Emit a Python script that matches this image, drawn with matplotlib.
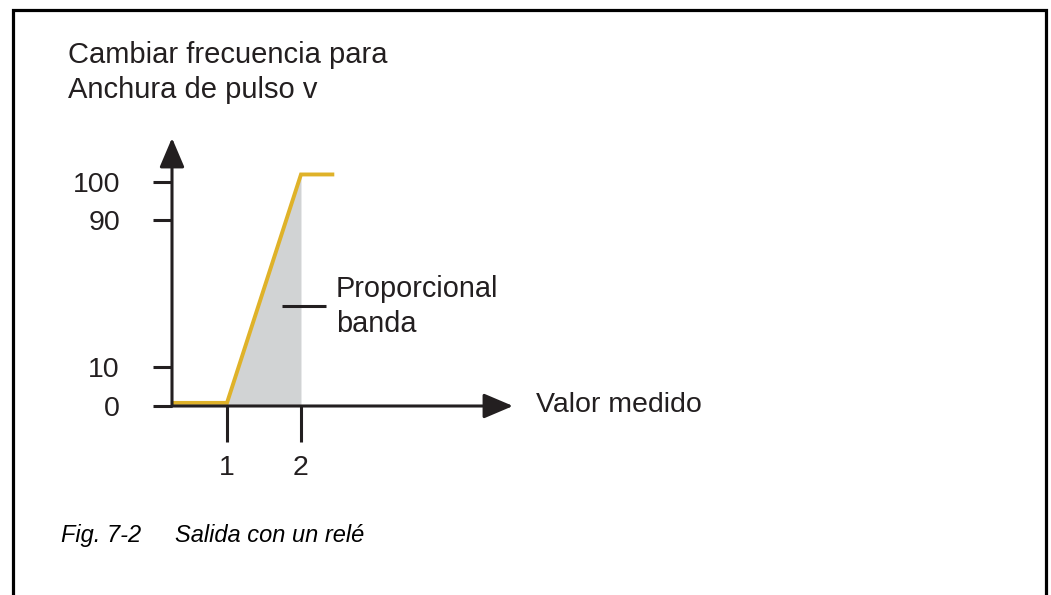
import numpy as np
import matplotlib
import matplotlib.pyplot as plt
from matplotlib.lines import Line2D

matplotlib.rcParams['font.family'] = ['Liberation Sans', 'DejaVu Sans']

# data (schematic relay output)
x_measured = [0.26, 1, 2, 2.45]      # measured value
y_output = [0.8, 0.8, 102, 102]      # pulse width / frequency, %
band_x = [1, 2]                      # proportional band
y_ticks = [0, 10, 90, 100]
y_tick_labels = ['0', '10', '90', '100']
x_ticks = [1, 2]
x_tick_labels = ['1', '2']

dark = '#231f20'
yellow = '#dfb229'
grey = '#d1d3d4'

W, H = 1051, 595
fig = plt.figure(figsize=(W / 100, H / 100), dpi=100)


def fx(px):
    return px / W


def fy(py):
    return 1 - py / H


# frame round the figure (open at the bottom)
fig.add_artist(Line2D([fx(13), fx(13), fx(1046), fx(1046)],
                      [fy(600), fy(9.5), fy(9.5), fy(600)],
                      transform=fig.transFigure, color='black', lw=2.3,
                      solid_joinstyle='miter'))

ax = fig.add_axes([fx(172), fy(406), fx(513) - fx(172), fy(138) - fy(406)])

# y axis is drawn schematically: 0-10 and 90-100 are stretched
knots_v = [-100, 0, 10, 90, 100, 200]
knots_p = [-390, 0, 39, 186, 224, 604]
ax.set_yscale('function', functions=(lambda v: np.interp(v, knots_v, knots_p),
                                     lambda p: np.interp(p, knots_p, knots_v)))
ax.set_xlim(0.257, 4.865)
ax.set_ylim(0, 111.6)

ax.fill_between(band_x, 0, np.interp(band_x, x_measured, y_output),
                color=grey, lw=0, zorder=1)
ax.plot(x_measured, y_output, color=yellow, lw=2.8, zorder=3,
        solid_joinstyle='miter', solid_capstyle='butt')

# axes with arrow heads
arrow = dict(arrowstyle='-|>,head_length=0.4,head_width=0.17', lw=2.2,
             color=dark, mutation_scale=45, shrinkA=0, shrinkB=0)
ax.annotate('', xy=(1, 0), xytext=(0, 0), xycoords='axes fraction',
            arrowprops=arrow, zorder=4)
ax.annotate('', xy=(0, 1), xytext=(0, 0), xycoords='axes fraction',
            arrowprops=arrow, zorder=4)

for s in ax.spines.values():
    s.set_visible(False)
ax.patch.set_visible(False)

ax.set_yticks(y_ticks, y_tick_labels)
ax.set_xticks(x_ticks, x_tick_labels)
ax.minorticks_off()
ax.tick_params(axis='y', direction='out', length=13.5, width=2.2, color=dark,
               labelcolor=dark, labelsize=20.5, pad=24)
ax.tick_params(axis='x', direction='out', length=26, width=2.2, color=dark,
               labelcolor=dark, labelsize=20.5, pad=9)

# leader line for the band label
ax.plot([1.74, 2.34], [43.2, 43.2], color=dark, lw=2.2, solid_capstyle='butt')

fig.text(fx(336), fy(297), 'Proporcional', fontsize=20.8, color=dark, va='baseline')
fig.text(fx(336), fy(332), 'banda', fontsize=20.8, color=dark, va='baseline')
fig.text(fx(536), fy(412), 'Valor medido', fontsize=20.5, color=dark, va='baseline')

fig.text(fx(68), fy(63), 'Cambiar frecuencia para', fontsize=21, color=dark, va='baseline')
fig.text(fx(68), fy(98), 'Anchura de pulso v', fontsize=21, color=dark, va='baseline')

fig.text(fx(61), fy(542), 'Fig. 7-2', fontsize=17, style='italic', color='black', va='baseline')
fig.text(fx(175), fy(542), 'Salida con un relé', fontsize=17, style='italic', color='black', va='baseline')

fig.savefig('out.png', dpi=100)
